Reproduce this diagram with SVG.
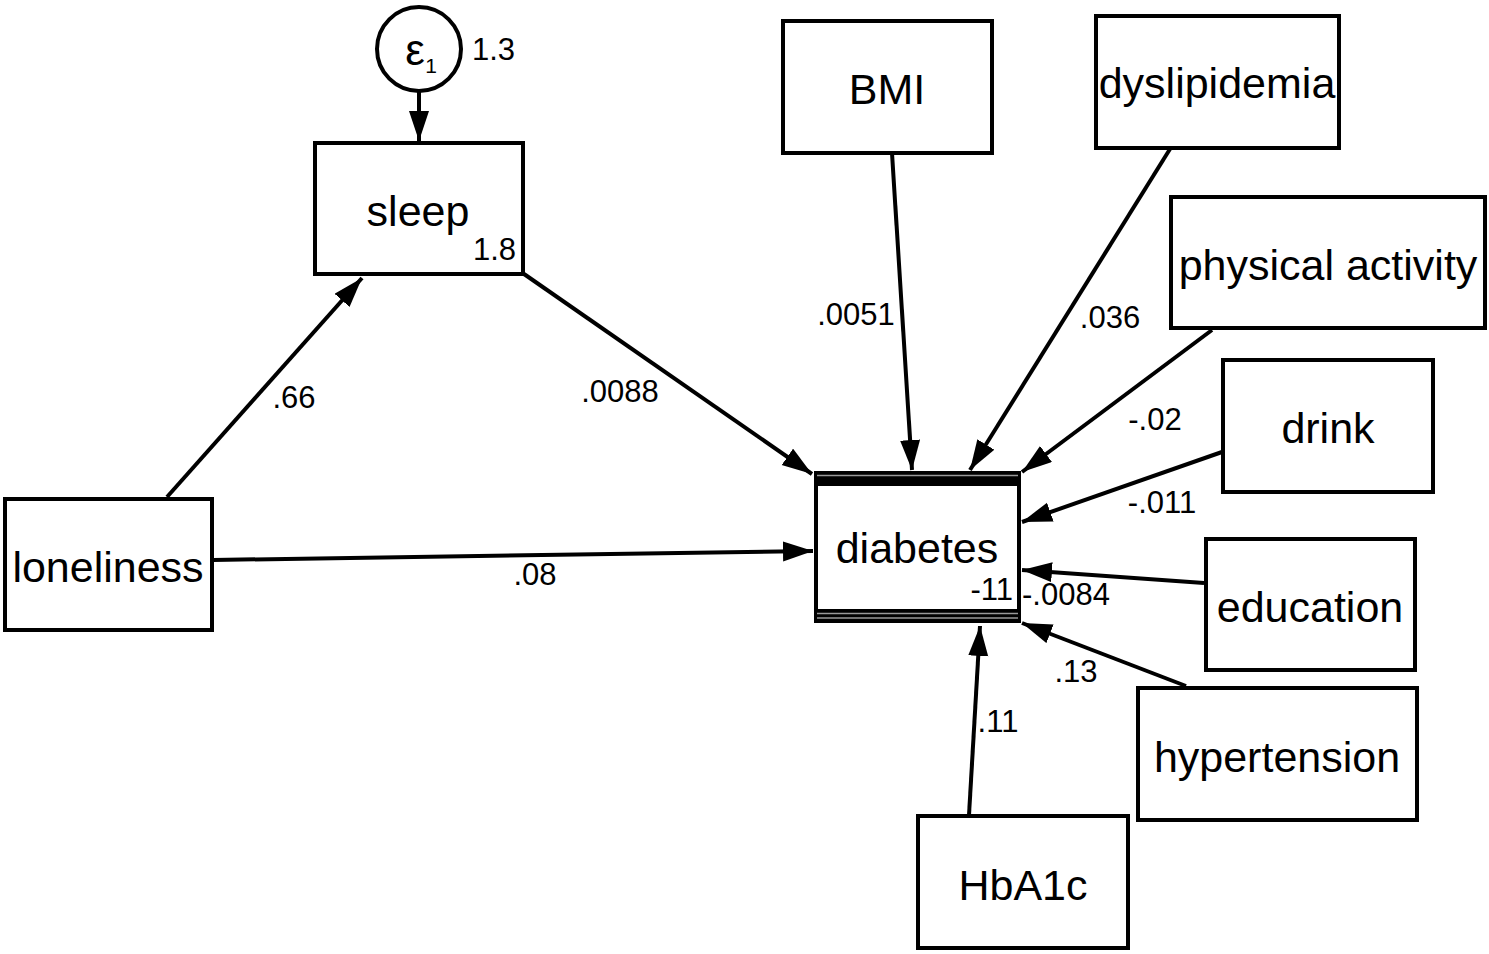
<svg xmlns="http://www.w3.org/2000/svg" width="1489" height="954" viewBox="0 0 1489 954">
<style>
.box{fill:#fff;stroke:#000;stroke-width:4}
.lbl{font-family:"Liberation Sans",Arial,sans-serif;font-size:43px;fill:#000;text-anchor:middle}
.num{font-family:"Liberation Sans",Arial,sans-serif;font-size:31px;fill:#000}
.edge{stroke:#000;stroke-width:4;fill:none;marker-end:url(#arr)}
</style>
<defs>
<marker id="arr" markerUnits="userSpaceOnUse" markerWidth="32" markerHeight="22" refX="30" refY="10" orient="auto">
<path d="M0,0 L30,10 L0,20 z" fill="#000"/>
</marker>
</defs>
<rect width="1489" height="954" fill="#fff"/>
<g id="connectors">
<line class="edge" x1="419" y1="92" x2="419" y2="141"/>
<line class="edge" x1="167" y1="497" x2="362" y2="278"/>
<line class="edge" x1="524" y1="274" x2="812" y2="474"/>
<line class="edge" x1="213" y1="560" x2="813" y2="551"/>
<line class="edge" x1="892" y1="153" x2="912" y2="470"/>
<line class="edge" x1="1170" y1="149" x2="970" y2="470"/>
<line class="edge" x1="1212" y1="330" x2="1022" y2="472"/>
<line class="edge" x1="1222" y1="452" x2="1022" y2="522"/>
<line class="edge" x1="1204" y1="583" x2="1022" y2="570"/>
<line class="edge" x1="1186" y1="686" x2="1022" y2="623"/>
<line class="edge" x1="969" y1="815" x2="980" y2="626"/>
<text class="num" x="294" y="408" text-anchor="middle">.66</text>
<text class="num" x="620" y="402" text-anchor="middle">.0088</text>
<text class="num" x="535" y="585" text-anchor="middle">.08</text>
<text class="num" x="856" y="325" text-anchor="middle">.0051</text>
<text class="num" x="1110" y="328" text-anchor="middle">.036</text>
<text class="num" x="1155" y="430" text-anchor="middle">-.02</text>
<text class="num" x="1162" y="513" text-anchor="middle">-.011</text>
<text class="num" x="1022" y="605">-.0084</text>
<text class="num" x="1076" y="682" text-anchor="middle">.13</text>
<text class="num" x="998" y="732" text-anchor="middle">.11</text>
</g>
<g id="e1">
<circle cx="419" cy="49" r="42" fill="#fff" stroke="#000" stroke-width="4"/>
<text x="415" y="65" font-family="Liberation Sans,Arial,sans-serif" font-size="44" text-anchor="middle">ε</text>
<text x="431" y="73" font-family="Liberation Sans,Arial,sans-serif" font-size="21" text-anchor="middle">1</text>
<text class="num" x="472" y="60">1.3</text>
</g>
<g id="sleep">
<rect class="box" x="315" y="143" width="208" height="131"/>
<text class="lbl" x="418" y="226">sleep</text>
<text class="num" x="516" y="260" text-anchor="end">1.8</text>
</g>
<g id="loneliness">
<rect class="box" x="5" y="499" width="207" height="131"/>
<text class="lbl" x="108" y="582">loneliness</text>
</g>
<g id="diabetes">
<rect class="box" x="816" y="474" width="203" height="147"/>
<rect x="814" y="471" width="207" height="15" fill="#000"/>
<line x1="817" y1="475.5" x2="1018" y2="475.5" stroke="#999" stroke-width="1.5"/>
<rect x="814" y="609" width="207" height="14" fill="#000"/>
<line x1="817" y1="613.5" x2="1018" y2="613.5" stroke="#999" stroke-width="1.5"/>
<line x1="817" y1="618" x2="1018" y2="618" stroke="#999" stroke-width="1.5"/>
<text class="lbl" x="917" y="563">diabetes</text>
<text class="num" x="1013" y="600" text-anchor="end">-11</text>
</g>
<g id="bmi">
<rect class="box" x="783" y="21" width="209" height="132"/>
<text class="lbl" x="887" y="104">BMI</text>
</g>
<g id="dyslipidemia">
<rect class="box" x="1096" y="16" width="243" height="132"/>
<text class="lbl" x="1217" y="98">dyslipidemia</text>
</g>
<g id="physical_activity">
<rect class="box" x="1171" y="197" width="314" height="131"/>
<text class="lbl" x="1328" y="280">physical activity</text>
</g>
<g id="drink">
<rect class="box" x="1223" y="360" width="210" height="132"/>
<text class="lbl" x="1328" y="443">drink</text>
</g>
<g id="education">
<rect class="box" x="1206" y="539" width="209" height="131"/>
<text class="lbl" x="1310" y="622">education</text>
</g>
<g id="hypertension">
<rect class="box" x="1138" y="688" width="279" height="132"/>
<text class="lbl" x="1277" y="772">hypertension</text>
</g>
<g id="hba1c">
<rect class="box" x="918" y="816" width="210" height="132"/>
<text class="lbl" x="1023" y="900">HbA1c</text>
</g>
</svg>
